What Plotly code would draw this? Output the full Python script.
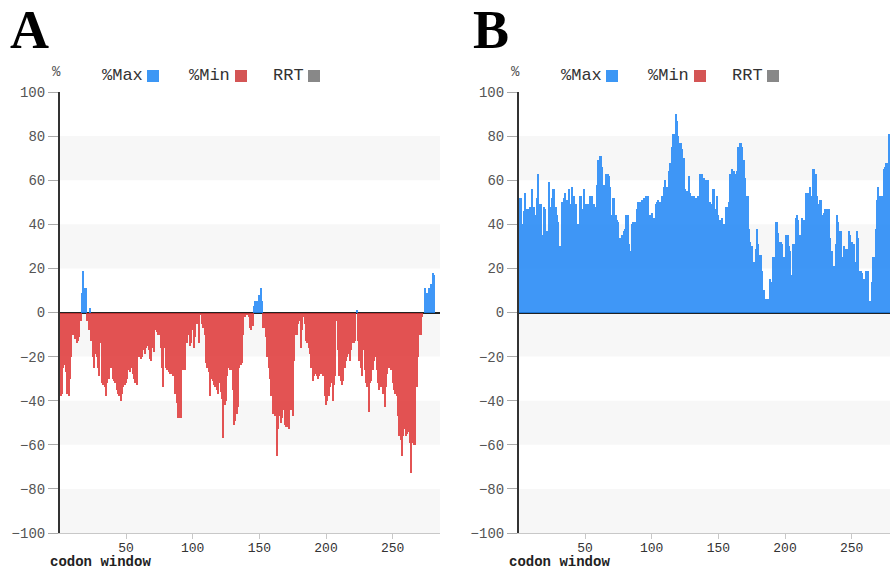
import plotly.graph_objects as go

W, H = 890, 571

# ---------------- data ----------------
codon_ticks = [50, 100, 150, 200, 250]
y_ticks = list(range(-100, 101, 20))

# Panel A: signed % per codon window (positive -> %Max, negative -> %Min)
pct_a = [
    -38, -37, -25, -24, -27, -37, -38, -30, -20, -10,
    -9, -12, -14, -13, -11, -4, 9, 19, 11, 11,
    -4, -8, 2, -13, -20, -25, -19, -20, -25, -29,
    -14, -32, -33, -34, -38, -32, -30, -12, -25, -30,
    -31, -32, -35, -37, -38, -40, -37, -34, -33, -32,
    -30, -26, -27, -25, -28, -30, -32, -33, -15, -20,
    -21, -20, -17, -19, -16, -15, -17, -21, -22, -16,
    -18, -8, -9, -10, -10, -16, -25, -34, -16, -25,
    -26, -27, -28, -28, -29, -29, -37, -41, -48, -48,
    -48, -25, -26, -26, -3, -14, -10, -15, -14, -8,
    -16, -11, -5, -2, -14, -1, -5, -7, -10, -23,
    -25, -27, -38, -30, -31, -33, -34, -35, -37, -32,
    -36, -39, -57, -42, -40, -29, -25, -26, -26, -35,
    -51, -49, -46, -43, -25, -24, -23, -10, -2, -1,
    -1, -2, -7, -8, -6, 3, 5, 5, 4, 8,
    11, 5, -7, -7, -11, -20, -25, -30, -38, -46,
    -46, -47, -65, -53, -47, -50, -48, -44, -51, -52,
    -52, -53, -43, -44, -47, -22, -10, -10, -5, -4,
    -16, -8, -2, -5, -13, -14, -16, -19, -25, -31,
    -29, -28, -29, -30, -29, -28, -28, -29, -38, -42,
    -40, -38, -34, -32, -40, -33, -29, -4, -17, -29,
    -31, -33, -31, -25, -22, -20, -19, -22, -17, -14,
    -14, -13, 1, -13, -22, -25, -29, -17, -26, -32,
    -34, -45, -32, -31, -26, -22, -20, -26, -32, -35,
    -34, -34, -37, -43, -34, -28, -25, -23, -26, -32,
    -35, -37, -38, -47, -56, -58, -65, -56, -53, -56,
    -55, -54, -59, -73, -59, -60, -60, -34, -20, -10,
    -10, -2, 0, 11, 8, 9, 11, 8, 13, 18, 17,
]

# Panel B: %Max per codon window
pct_b = [
    52, 52, 40, 46, 54, 47, 47, 42, 48, 56,
    48, 48, 44, 52, 63, 49, 49, 35, 48, 47,
    37, 37, 59, 48, 52, 56, 56, 48, 44, 41,
    30, 30, 50, 52, 54, 51, 51, 56, 49, 57,
    53, 53, 49, 39, 40, 53, 53, 47, 56, 48,
    49, 49, 49, 53, 53, 49, 49, 48, 58, 69,
    71, 71, 66, 58, 57, 63, 63, 62, 57, 44,
    52, 52, 44, 42, 41, 34, 34, 35, 37, 38,
    44, 44, 31, 28, 40, 41, 41, 41, 47, 50,
    50, 50, 51, 52, 43, 53, 53, 41, 44, 45,
    43, 43, 49, 50, 51, 50, 50, 53, 57, 60,
    57, 57, 64, 68, 75, 81, 81, 90, 87, 80,
    77, 77, 74, 70, 56, 55, 55, 62, 54, 53,
    53, 53, 52, 46, 53, 63, 63, 63, 61, 58,
    60, 60, 50, 50, 49, 56, 56, 47, 53, 44,
    42, 42, 43, 40, 38, 48, 48, 50, 63, 65,
    64, 64, 63, 64, 75, 77, 77, 75, 69, 61,
    53, 53, 38, 32, 30, 23, 23, 29, 38, 31,
    26, 26, 19, 10, 1, 6, 6, 0, 15, 14,
    25, 25, 41, 41, 36, 32, 32, 31, 25, 20,
    35, 35, 30, 28, 17, 31, 31, 43, 44, 42,
    35, 35, 43, 42, 37, 54, 54, 53, 57, 53,
    65, 65, 63, 53, 49, 51, 51, 44, 45, 47,
    47, 47, 47, 34, 28, 21, 21, 31, 44, 41,
    37, 37, 25, 30, 29, 29, 29, 37, 35, 32,
    31, 31, 23, 37, 34, 19, 19, 18, 15, 6,
    19, 19, 2, 5, 14, 25, 25, 38, 51, 57,
    53, 53, 53, 65, 66, 68, 68, 81,
]

legend_labels = ["%Max", "%Min", "RRT"]

# ---------------- styling ----------------
BLUE = "rgb(30,134,246)"
RED = "rgb(223,54,54)"
SW_BLUE = "rgb(60,151,245)"
SW_RED = "rgb(212,85,85)"
SW_GRAY = "rgb(136,136,136)"
MONO = "Liberation Mono, Courier New, monospace"
SERIF = "Liberation Serif, Times New Roman, serif"

max_a = [v if v > 0 else 0 for v in pct_a]
min_a = [v if v < 0 else 0 for v in pct_a]
codons_a = list(range(1, len(pct_a) + 1))
codons_b = list(range(1, len(pct_b) + 1))


def px(x):
    return x / W


def py(y):
    return 1 - y / H


fig = go.Figure()
fig.add_trace(go.Bar(x=codons_a, y=max_a, width=1, opacity=0.85,
                     marker=dict(color=BLUE, line_width=0), xaxis="x", yaxis="y",
                     name="%Max"))
fig.add_trace(go.Bar(x=codons_a, y=min_a, width=1, opacity=0.85,
                     marker=dict(color=RED, line_width=0), xaxis="x", yaxis="y",
                     name="%Min"))
fig.add_trace(go.Bar(x=codons_b, y=pct_b, width=1, opacity=0.85,
                     marker=dict(color=BLUE, line_width=0), xaxis="x2", yaxis="y2",
                     name="%Max"))

ydom = [py(533), py(92)]
xcommon = dict(tickvals=codon_ticks, ticks="outside", ticklen=5, tickcolor="#c8c8c8",
               showline=True, linecolor="#c8c8c8", linewidth=1, showgrid=False,
               zeroline=False, automargin=False,
               tickfont=dict(family=MONO, size=13, color="#333"),
               ticklabelstandoff=-3)
ycommon = dict(range=[-100, 100], tickvals=y_ticks, ticks="outside", ticklen=10,
               tickcolor="#aaaaaa", showline=True, linecolor="#333", linewidth=2,
               showgrid=False, zeroline=True, zerolinecolor="#222", zerolinewidth=2,
               automargin=False,
               tickfont=dict(family=MONO, size=14, color="#555"), domain=ydom)

fig.update_layout(
    template="none",
    width=W, height=H, margin=dict(l=0, r=0, t=0, b=0, pad=0, autoexpand=False),
    paper_bgcolor="white", plot_bgcolor="white", showlegend=False,
    barmode="overlay", bargap=0,
    xaxis=dict(domain=[px(60), px(440)], range=[0.5, 285.5], anchor="y", **xcommon),
    yaxis=dict(anchor="x", **ycommon),
    xaxis2=dict(domain=[px(519), 1.0], range=[0.5, 278.75], anchor="y2", **xcommon),
    yaxis2=dict(anchor="x2", **ycommon),
)

# alternating background bands
shapes = []
for xr, yr in (("x domain", "y"), ("x2 domain", "y2")):
    for lo in y_ticks[:-1:2]:
        shapes.append(dict(type="rect", xref=xr, yref=yr, x0=0, x1=1, y0=lo, y1=lo + 20,
                           fillcolor="#f7f7f7", line_width=0, layer="below"))

annotations = []
for off, letter, lx0 in ((0, "A", 8), (459, "B", 471)):
    # panel letter
    annotations.append(dict(text=f"<b>{letter}</b>", x=px(lx0), y=py(30),
                            xref="paper", yref="paper", xanchor="left",
                            yanchor="middle", showarrow=False,
                            font=dict(family=SERIF, size=54, color="black")))
    # unit label
    annotations.append(dict(text="%", x=px(56 + off), y=py(72), xref="paper", yref="paper",
                            xanchor="center", yanchor="middle", showarrow=False,
                            font=dict(family=MONO, size=14, color="#555")))
    # legend
    for lab, lx, sx, col in zip(legend_labels, (100, 187, 271), (147, 235, 308),
                                (SW_BLUE, SW_RED, SW_GRAY)):
        annotations.append(dict(text=lab, x=px(lx + off), y=py(76), xref="paper",
                                yref="paper", xanchor="left", yanchor="middle",
                                showarrow=False,
                                font=dict(family=MONO, size=17, color="#333")))
        shapes.append(dict(type="rect", xref="paper", yref="paper",
                           x0=px(sx + off), x1=px(sx + off + 12), y0=py(82), y1=py(70),
                           fillcolor=col, line_width=0))
    # axis title
    annotations.append(dict(text="<b>codon window</b>", x=px(48 + off), y=py(562),
                            xref="paper", yref="paper", xanchor="left", yanchor="middle",
                            showarrow=False,
                            font=dict(family=MONO, size=14, color="#222")))

fig.update_layout(shapes=shapes, annotations=annotations)
fig.write_html("out.html", config={"displayModeBar": False},
               post_script="document.body.style.margin='0';document.body.style.overflow='hidden';")
